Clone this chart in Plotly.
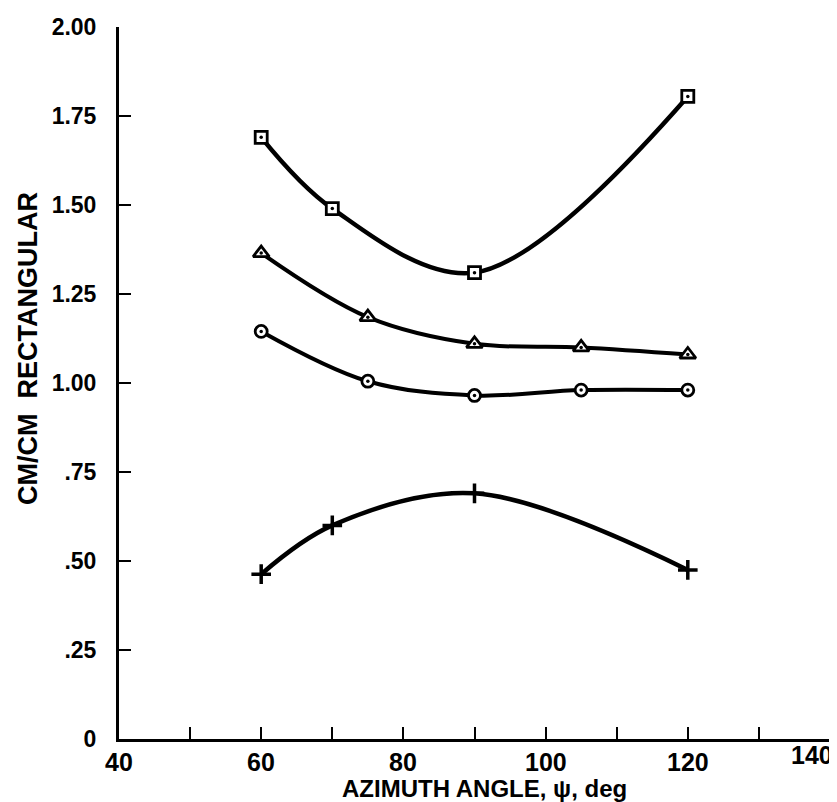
import plotly.graph_objects as go

# ---- data ----
x_square = [60, 70, 90, 120]
y_square = [1.69, 1.49, 1.31, 1.805]

x_triangle = [60, 75, 90, 105, 120]
y_triangle = [1.365, 1.185, 1.11, 1.10, 1.08]

x_circle = [60, 75, 90, 105, 120]
y_circle = [1.145, 1.005, 0.965, 0.98, 0.98]

x_plus = [60, 70, 90, 120]
y_plus = [0.463, 0.60, 0.69, 0.475]

x_tick_vals = [40, 60, 80, 100, 120, 140]
x_tick_text = ["40", "60", "80", "100", "120", "140"]
y_tick_vals = [0, 0.25, 0.5, 0.75, 1.0, 1.25, 1.5, 1.75, 2.0]
y_tick_text = ["0", ".25", ".50", ".75", "1.00", "1.25", "1.50", "1.75", "2.00"]

x_title = "AZIMUTH ANGLE, \u03c8, deg"
y_title = "CM/CM  RECTANGULAR"

FONT = "Liberation Sans, Arial, Helvetica, sans-serif"

fig = go.Figure()

series = [
    (x_square, y_square, "square", 12, 4.5),
    (x_triangle, y_triangle, "triangle-up", 14, 4),
    (x_circle, y_circle, "circle", 12, 4),
]
for xs, ys, sym, size, lw in series:
    fig.add_trace(go.Scatter(
        x=xs, y=ys, mode="lines+markers",
        line=dict(color="black", width=lw, shape="spline", smoothing=1.0),
        marker=dict(symbol=sym, size=size, color="white",
                    line=dict(color="black", width=2.8)),
        showlegend=False, hoverinfo="skip"))
    fig.add_trace(go.Scatter(
        x=xs, y=ys, mode="markers",
        marker=dict(symbol="circle", size=3.5, color="black"),
        showlegend=False, hoverinfo="skip"))

fig.add_trace(go.Scatter(
    x=x_plus, y=y_plus, mode="lines+markers",
    line=dict(color="black", width=4.5, shape="spline", smoothing=1.0),
    marker=dict(symbol="cross-thin", size=14,
                line=dict(color="black", width=3.5)),
    showlegend=False, hoverinfo="skip"))

# x tick labels as annotations (the last one pulled inside the canvas)
for v, t in zip(x_tick_vals, x_tick_text):
    last = v == x_tick_vals[-1]
    fig.add_annotation(
        x=v, y=0, xref="x", yref="y", text=t, showarrow=False,
        xanchor="right" if last else "center", yanchor="middle",
        xshift=5 if last else 0, yshift=-16 if last else -23,
        font=dict(family=FONT, size=25, color="black", weight="bold"))

fig.add_annotation(
    x=0.5, y=0, xref="paper", yref="paper", text=x_title, showarrow=False,
    xanchor="center", yanchor="middle", yshift=-49, xshift=10,
    font=dict(family=FONT, size=24, color="black", weight="bold"))

fig.add_annotation(
    x=0, y=0.5, xref="paper", yref="paper", text=y_title, showarrow=False,
    xanchor="center", yanchor="middle", xshift=-91, yshift=34, textangle=-90,
    font=dict(family=FONT, size=27, color="black", weight="bold"))

fig.update_layout(
    width=837, height=802,
    margin=dict(l=111, r=15, t=19, b=71),
    paper_bgcolor="white", plot_bgcolor="white",
    showlegend=False,
    xaxis=dict(range=[40, 140], dtick=10, tick0=40, showgrid=False, zeroline=False,
               showline=True, linecolor="black", linewidth=3,
               ticks="inside", ticklen=12, tickwidth=2, tickcolor="black",
               showticklabels=False, automargin=False, fixedrange=True),
    yaxis=dict(range=[0, 2], tickvals=y_tick_vals, ticktext=y_tick_text,
               showgrid=False, zeroline=False,
               showline=True, linecolor="black", linewidth=3,
               ticks="inside", ticklen=12, tickwidth=2, tickcolor="black",
               ticklabelstandoff=15, automargin=False, fixedrange=True,
               tickfont=dict(family=FONT, size=23, color="black", weight="bold")),
)

fig.write_html("out.html")
